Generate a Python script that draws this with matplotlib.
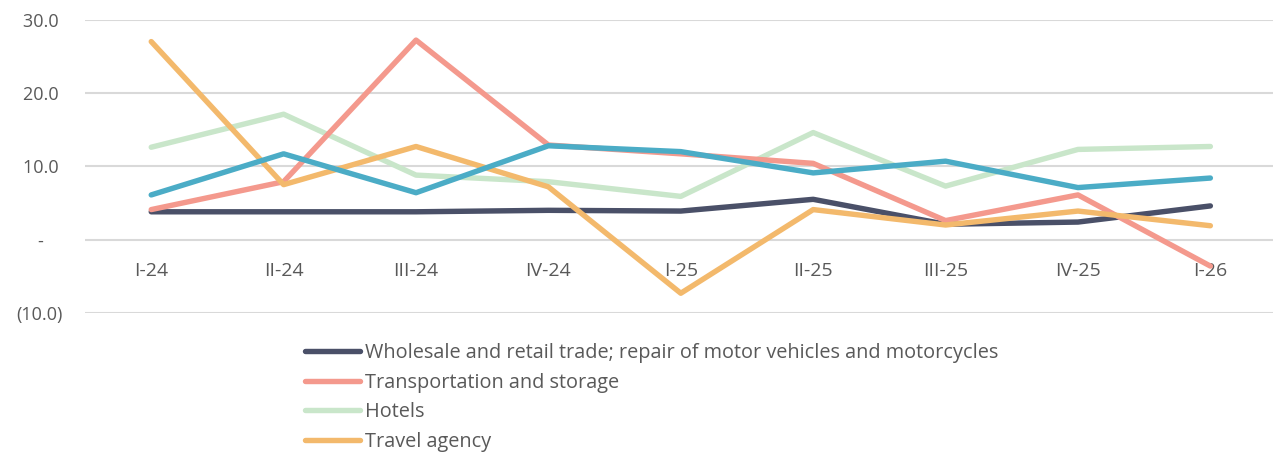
import matplotlib
matplotlib.use("Agg")
import matplotlib.pyplot as plt

# quarters on the x axis
quarters = ["I-24", "II-24", "III-24", "IV-24", "I-25", "II-25", "III-25", "IV-25", "I-26"]

# series values
wholesale = [3.8, 3.8, 3.8, 4.0, 3.9, 5.5, 2.1, 2.4, 4.6]
transport = [4.1, 7.9, 27.2, 12.9, 11.7, 10.4, 2.6, 6.1, -3.6]
hotels = [12.6, 17.1, 8.8, 7.9, 5.9, 14.6, 7.3, 12.3, 12.7]
travel = [27.0, 7.5, 12.7, 7.2, -7.3, 4.1, 2.0, 3.9, 1.9]
series5 = [6.1, 11.7, 6.4, 12.8, 12.0, 9.1, 10.7, 7.1, 8.4]  # legend entry cut off in source

labels = ["Wholesale and retail trade; repair of motor vehicles and motorcycles",
          "Transportation and storage", "Hotels", "Travel agency"]

yticks = [-10, 0, 10, 20, 30]
ytick_labels = ["(10.0)", "-    ", "10.0 ", "20.0 ", "30.0 "]

plt.rcParams['font.family'] = ['Open Sans', 'DejaVu Sans']
txt = '#595959'

fig = plt.figure(figsize=(12.73, 4.55), dpi=100)
ax = fig.add_axes([0.0668, 0.312, 0.936, 0.645])

x = range(len(quarters))
lw = 3.9
ax.plot(x, wholesale, color='#4a5068', lw=lw, solid_capstyle='round', label=labels[0], zorder=3)
ax.plot(x, transport, color='#f4998d', lw=lw, solid_capstyle='round', label=labels[1], zorder=4)
ax.plot(x, hotels, color='#c9e6ca', lw=lw, solid_capstyle='round', label=labels[2], zorder=2)
ax.plot(x, travel, color='#f3b96c', lw=lw, solid_capstyle='round', label=labels[3], zorder=5)
ax.plot(x, series5, color='#4bacc6', lw=lw, solid_capstyle='round', zorder=6)

ax.set_xlim(-0.5, len(quarters) - 0.5)
ax.set_ylim(-10, 30)
ax.set_yticks(yticks)
ax.set_yticklabels(ytick_labels)
ax.set_xticks(list(x))
ax.set_xticklabels(quarters)

ax.grid(axis='y', color='#d9d9d9', lw=1.5, zorder=0)
ax.set_axisbelow(True)
for s in ax.spines.values():
    s.set_visible(False)
ax.spines['bottom'].set_position(('data', 0))
ax.tick_params(axis='y', length=0, pad=16, labelsize=13, labelcolor=txt)
ax.tick_params(axis='x', length=0, pad=16, labelsize=14, labelcolor=txt)

leg = fig.legend(loc='upper left', bbox_to_anchor=(0.2396, 0.246), frameon=False,
                 fontsize=14.3, labelcolor=txt, handlelength=2.75, handletextpad=0.25,
                 labelspacing=0.48, borderpad=0, borderaxespad=0)

fig.savefig('out.png', dpi=100)
